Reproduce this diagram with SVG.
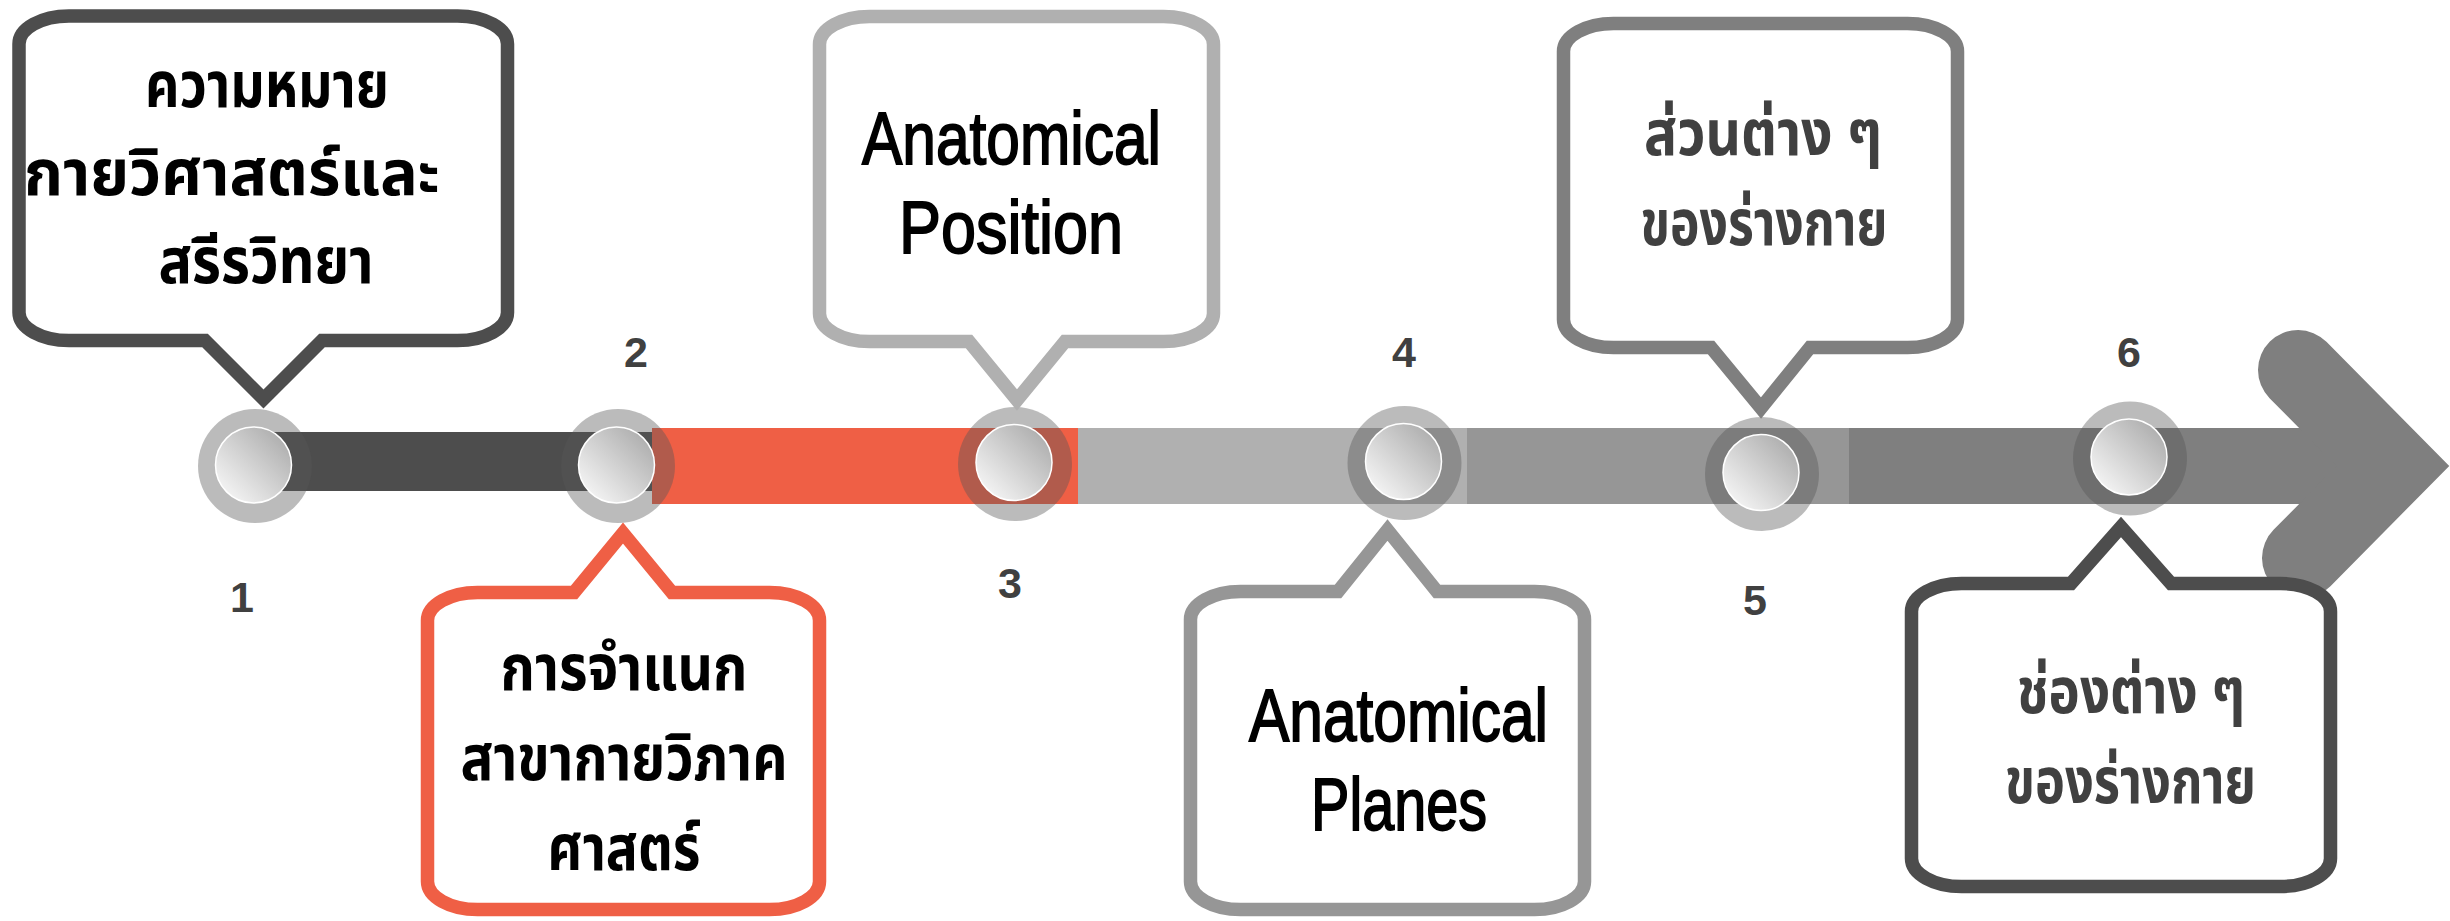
<svg xmlns="http://www.w3.org/2000/svg" width="2450" height="921" viewBox="0 0 2450 921">
<defs>
<linearGradient id="knob" x1="1" y1="0" x2="0" y2="1">
<stop offset="0" stop-color="#a3a3a3"/>
<stop offset="1" stop-color="#ffffff"/>
</linearGradient>
<style>
.box{fill:#ffffff;stroke-width:13.5;stroke-linejoin:miter;stroke-miterlimit:10}
.th{font-family:"Noto Sans Thai","Noto Sans",sans-serif;font-weight:bold;font-size:64px;text-anchor:middle}
.en{font-family:"Liberation Sans",Arial,sans-serif;font-size:75px;text-anchor:middle;fill:#000;stroke:#000;stroke-width:1.8}
.num{font-family:"Liberation Sans",Arial,sans-serif;font-weight:bold;font-size:43px;fill:#404040;text-anchor:middle}
.ring{fill:rgb(87,87,87);fill-opacity:0.405}
.knob{fill:url(#knob);stroke:#ffffff;stroke-width:1.5}
</style>
</defs>
<rect width="2450" height="921" fill="#ffffff"/>

<g id="connectors">
<rect x="652" y="428" width="427" height="76" fill="#ef5f45"/>
<rect x="1078" y="428" width="389" height="76" fill="#b0b0b0"/>
<rect x="1467" y="428" width="382" height="76" fill="#969696"/>
<rect x="1849" y="428" width="500" height="76" fill="#7f7f7f"/>
<path d="M2298,370 L2393,466 L2302,558" fill="none" stroke="#7f7f7f" stroke-width="80" stroke-linecap="round" stroke-linejoin="miter" stroke-miterlimit="10"/>
<rect x="255" y="432" width="397" height="59" fill="#4d4d4d"/>
</g>

<g id="markers">
<circle class="ring" cx="255" cy="466" r="57"/>
<circle class="knob" cx="253.5" cy="465" r="38"/>
<circle class="ring" cx="618" cy="466" r="57"/>
<circle class="knob" cx="616.5" cy="465" r="38"/>
<circle class="ring" cx="1015" cy="464" r="57"/>
<circle class="knob" cx="1014" cy="462.5" r="38"/>
<circle class="ring" cx="1404.5" cy="463" r="57"/>
<circle class="knob" cx="1403.5" cy="461.5" r="38"/>
<circle class="ring" cx="1762" cy="474" r="57"/>
<circle class="knob" cx="1761" cy="472.5" r="38"/>
<circle class="ring" cx="2130" cy="458.5" r="57"/>
<circle class="knob" cx="2129" cy="457" r="38"/>
</g>

<g id="numbers">
<text class="num" x="242" y="612">1</text>
<text class="num" x="636" y="367">2</text>
<text class="num" x="1010" y="598">3</text>
<text class="num" x="1404" y="367">4</text>
<text class="num" x="1755" y="615">5</text>
<text class="num" x="2129" y="367">6</text>
</g>

<g id="node1">
<path class="box" stroke="#4d4d4d" d="M69,16 H457.5 A50,28 0 0 1 507.5,44 V312.5 A50,28 0 0 1 457.5,340.5 H322 L263.5,399 L205,340.5 H69 A50,28 0 0 1 19,312.5 V44 A50,28 0 0 1 69,16 Z"/>
<text class="th" fill="#000" x="267" y="107" textLength="244" lengthAdjust="spacingAndGlyphs">ความหมาย</text>
<text class="th" fill="#000" x="232" y="195" textLength="416" lengthAdjust="spacingAndGlyphs">กายวิศาสตร์และ</text>
<text class="th" fill="#000" x="266" y="283" textLength="215" lengthAdjust="spacingAndGlyphs">สรีรวิทยา</text>
</g>

<g id="node2">
<path class="box" stroke="#ef5f45" d="M477.5,592.5 H574 L623,533 L672,592.5 H769.5 A50,28 0 0 1 819.5,620.5 V881.5 A50,28 0 0 1 769.5,909.5 H477.5 A50,28 0 0 1 427.5,881.5 V620.5 A50,28 0 0 1 477.5,592.5 Z"/>
<text class="th" fill="#000" x="624" y="690" textLength="247" lengthAdjust="spacingAndGlyphs">การจำแนก</text>
<text class="th" fill="#000" x="624" y="780" textLength="327" lengthAdjust="spacingAndGlyphs">สาขากายวิภาค</text>
<text class="th" fill="#000" x="624" y="870" textLength="153" lengthAdjust="spacingAndGlyphs">ศาสตร์</text>
</g>

<g id="node3">
<path class="box" stroke="#b0b0b0" d="M869.5,16.5 H1163.5 A50,28 0 0 1 1213.5,44.5 V313.5 A50,28 0 0 1 1163.5,341.5 H1065 L1017,400 L969,341.5 H869.5 A50,28 0 0 1 819.5,313.5 V44.5 A50,28 0 0 1 869.5,16.5 Z"/>
<text class="en" x="1011.5" y="164" textLength="299" lengthAdjust="spacingAndGlyphs">Anatomical</text>
<text class="en" x="1011" y="253" textLength="224" lengthAdjust="spacingAndGlyphs">Position</text>
</g>

<g id="node4">
<path class="box" stroke="#969696" d="M1240.5,591.5 H1338 L1387.5,530 L1437,591.5 H1534.5 A50,28 0 0 1 1584.5,619.5 V881.5 A50,28 0 0 1 1534.5,909.5 H1240.5 A50,28 0 0 1 1190.5,881.5 V619.5 A50,28 0 0 1 1240.5,591.5 Z"/>
<text class="en" x="1398.5" y="741" textLength="299" lengthAdjust="spacingAndGlyphs">Anatomical</text>
<text class="en" x="1399" y="830" textLength="176" lengthAdjust="spacingAndGlyphs">Planes</text>
</g>

<g id="node5">
<path class="box" stroke="#7f7f7f" d="M1613.5,23.5 H1907.5 A50,28 0 0 1 1957.5,51.5 V319.5 A50,28 0 0 1 1907.5,347.5 H1810 L1761,408 L1711,347.5 H1613.5 A50,28 0 0 1 1563.5,319.5 V51.5 A50,28 0 0 1 1613.5,23.5 Z"/>
<text class="th" fill="#404040" x="1763" y="155" textLength="238" lengthAdjust="spacingAndGlyphs">ส่วนต่าง ๆ</text>
<text class="th" fill="#404040" x="1764" y="245" textLength="247" lengthAdjust="spacingAndGlyphs">ของร่างกาย</text>
</g>

<g id="node6">
<path class="box" stroke="#4d4d4d" d="M1961.5,583.5 H2071 L2121,527 L2171,583.5 H2280.5 A50,28 0 0 1 2330.5,611.5 V858.5 A50,28 0 0 1 2280.5,886.5 H1961.5 A50,28 0 0 1 1911.5,858.5 V611.5 A50,28 0 0 1 1961.5,583.5 Z"/>
<text class="th" fill="#404040" x="2131" y="713" textLength="228" lengthAdjust="spacingAndGlyphs">ช่องต่าง ๆ</text>
<text class="th" fill="#404040" x="2130.5" y="803" textLength="251" lengthAdjust="spacingAndGlyphs">ของร่างกาย</text>
</g>
</svg>
